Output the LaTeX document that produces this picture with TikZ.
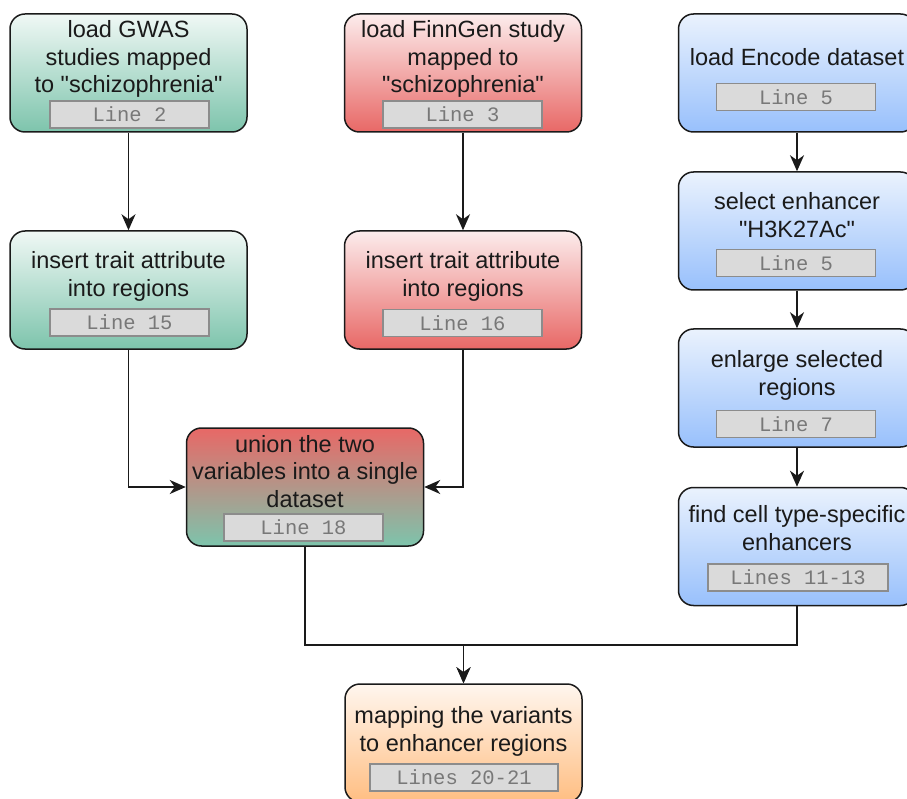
\documentclass[tikz,border=0pt]{standalone}
\usepackage{fontspec}
\setmainfont{Liberation Sans}
\setmonofont{Liberation Mono}
\usetikzlibrary{arrows.meta,positioning}
\definecolor{FlowInk}{RGB}{26,26,26}
\definecolor{GwasTop}{RGB}{240,248,245}
\definecolor{GwasBottom}{RGB}{125,196,172}
\definecolor{FinnTop}{RGB}{252,236,236}
\definecolor{FinnBottom}{RGB}{232,104,102}
\definecolor{EncTop}{RGB}{234,242,253}
\definecolor{EncBottom}{RGB}{152,192,252}
\definecolor{MapTop}{RGB}{255,246,238}
\definecolor{MapBottom}{RGB}{255,190,130}
\definecolor{LineFill}{RGB}{218,218,218}
\definecolor{LineEdge}{RGB}{140,140,140}
\definecolor{LineText}{RGB}{120,120,120}
\newcommand{\dq}{\textquotedbl}
\tikzset{
  flow/box/.style={
    draw=FlowInk,
    line width=1.5pt,
    rounded corners=15pt,
    minimum width=237pt,
    minimum height=118pt,
    inner sep=0pt
  },
  flow/gwas/.style={flow/box, top color=GwasTop, bottom color=GwasBottom},
  flow/finn/.style={flow/box, top color=FinnTop, bottom color=FinnBottom},
  flow/enc/.style={flow/box, top color=EncTop, bottom color=EncBottom},
  flow/union/.style={flow/box, top color=FinnBottom, bottom color=GwasBottom},
  flow/map/.style={flow/box, top color=MapTop, bottom color=MapBottom},
  flow/text/.style={
    align=center,
    text=FlowInk,
    inner sep=0pt,
    font=\fontsize{23.5pt}{27.5pt}\selectfont
  },
  flow/line/.style={
    draw=LineEdge,
    line width=1.5pt,
    fill=LineFill,
    text=LineText,
    minimum width=159pt,
    minimum height=27pt,
    inner sep=0pt,
    font=\ttfamily\fontsize{20.5pt}{24pt}\selectfont
  },
  flow/arrow/.style={-{Stealth[length=16pt,width=14pt,inset=5pt]}, line width=1.8pt, draw=FlowInk}
}
\begin{document}
\begin{tikzpicture}[x=1pt,y=-1pt]
  \useasboundingbox (0,0) rectangle (907,799);
  \clip (0,0) rectangle (907,799);
  % GWAS column
  \node[flow/gwas] (gwas) at (128.5,73) {};
  \node[flow/text] (gwastxt) at (128.5,59) {load GWAS\\studies mapped\\to \dq schizophrenia\dq};
  \node[flow/line] (gwasline) at (129.5,114.5) {Line 2};
  \node[flow/gwas] (gwastrait) at (128.5,290) {};
  \node[flow/text] (gwastraittxt) at (128.5,276.5) {insert trait attribute\\into regions};
  \node[flow/line] (gwastraitline) at (129.5,322.5) {Line 15};
  % FinnGen column
  \node[flow/finn] (finn) at (463,73) {};
  \node[flow/text] (finntxt) at (463,59) {load FinnGen study\\mapped to\\\dq schizophrenia\dq};
  \node[flow/line] (finnline) at (462.5,114.5) {Line 3};
  \node[flow/finn] (finntrait) at (463,290) {};
  \node[flow/text] (finntraittxt) at (463,276.5) {insert trait attribute\\into regions};
  \node[flow/line] (finntraitline) at (462.5,323) {Line 16};
  % Encode column
  \node[flow/enc] (encode) at (797,73) {};
  \node[flow/text] (encodetxt) at (797,57.5) {load Encode dataset};
  \node[flow/line] (encodeline) at (796,97) {Line 5};
  \node[flow/enc] (select) at (797,231) {};
  \node[flow/text] (selecttxt) at (797,215) {select enhancer\\\dq H3K27Ac\dq};
  \node[flow/line] (selectline) at (796,263) {Line 5};
  \node[flow/enc] (enlarge) at (797,388) {};
  \node[flow/text] (enlargetxt) at (797,375.5) {enlarge selected\\regions};
  \node[flow/line] (enlargeline) at (796,424) {Line 7};
  \node[flow/enc] (celltype) at (797,546.5) {};
  \node[flow/text] (celltypetxt) at (797,528) {find cell type-specific\\enhancers};
  \node[flow/line,minimum width=180pt] (celltypeline) at (798,577.5) {Lines 11-13};
  % merge and result
  \node[flow/union] (union) at (305,487) {};
  \node[flow/text] (uniontxt) at (305,471.5) {union the two\\variables into a single\\dataset};
  \node[flow/line] (unionline) at (303.5,527.5) {Line 18};
  \node[flow/map] (mapping) at (463.5,743) {};
  \node[flow/text] (mappingtxt) at (463.5,731.5) {mapping the variants\\to enhancer regions};
  \node[flow/line,minimum width=188pt] (mappingline) at (464,777.5) {Lines 20-21};
  \coordinate (merge) at (463.5,645);
  \draw[flow/arrow] (gwas) -- (gwastrait);
  \draw[flow/arrow] (finn) -- (finntrait);
  \draw[flow/arrow] (encode) -- (select);
  \draw[flow/arrow] (select) -- (enlarge);
  \draw[flow/arrow] (enlarge) -- (celltype);
  \draw[flow/arrow] (gwastrait.south) |- (union.west);
  \draw[flow/arrow] (finntrait.south) |- (union.east);
  \draw[flow/arrow] (union.south) |- (merge) -- (mapping.north);
  \draw[flow/arrow] (celltype.south) |- (merge) -- (mapping.north);
\end{tikzpicture}
\end{document}
